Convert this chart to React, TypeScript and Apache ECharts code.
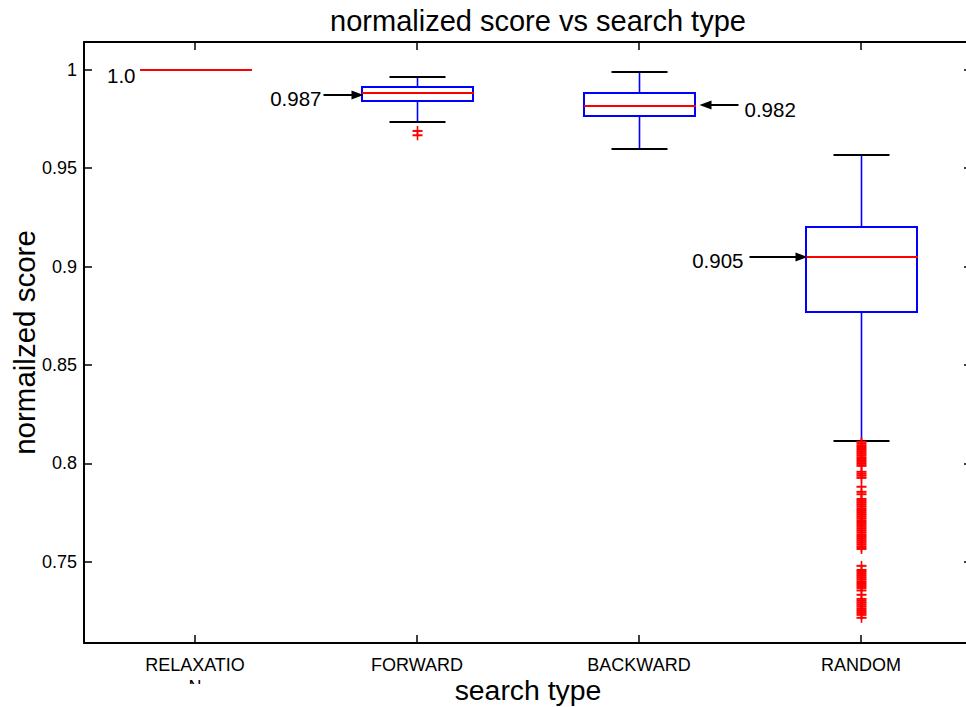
import React, { useEffect, useRef } from "react";
import * as echarts from "echarts";

// ---------- data ----------
const categories = ["RELAXATION", "FORWARD", "BACKWARD", "RANDOM"];
// [min whisker, Q1, median, Q3, max whisker]
const relaxationStats = [1.0, 1.0, 1.0, 1.0, 1.0];
const forwardStats = [0.9737, 0.9839, 0.9884, 0.991, 0.9961];
const backwardStats = [0.9597, 0.9766, 0.9817, 0.9882, 0.999];
const randomStats = [0.8112, 0.877, 0.9046, 0.9199, 0.9565];
const boxStats = [relaxationStats, forwardStats, backwardStats, randomStats];

const forwardOutliers = [0.9689, 0.9667];
const randomOutliers = [
  0.8109, 0.8099, 0.8088, 0.8078, 0.8068, 0.8058, 0.8048, 0.8038, 0.8027,
  0.8017, 0.8007, 0.7997, 0.7987,
  0.7957, 0.7947, 0.7937, 0.7926,
  0.7881, 0.7855, 0.7843,
  0.7819, 0.7809, 0.7799, 0.7789, 0.7779, 0.7768, 0.7758, 0.7748, 0.7738,
  0.7728, 0.7718, 0.7707, 0.7697, 0.7687, 0.7677, 0.7667, 0.7657, 0.7647,
  0.7636, 0.7626, 0.7616, 0.7606, 0.7596, 0.7586, 0.7575, 0.7565,
  0.7479, 0.7458,
  0.7448, 0.7438, 0.7428, 0.7418, 0.7408, 0.7397, 0.7387, 0.7377, 0.7367,
  0.7354, 0.7332,
  0.7311, 0.7301, 0.7291, 0.7281, 0.7271, 0.726, 0.725, 0.724, 0.723,
  0.7215,
];

const annotationCategoryIdx = [0, 1, 2, 3];
const annotationValues = [1.0, 0.987, 0.982, 0.905];
const annotationTexts = ["1.0", "0.987", "0.982", "0.905"];

const yTicks = ["0.75", "0.8", "0.85", "0.9", "0.95", "1"];
const titleText = "normalized score vs search type";
const xName = "search type";
const yName = "normailzed score";

// ---------- styles ----------
const FONT = '"Liberation Sans", Arial, sans-serif';
const BLUE = "#0000ff";
const RED = "#ff0000";
const annotationSide = ["left", "left", "right", "left"];
const annotationArrowLen = [0, 40, 39, 58];
const annotationTextGap = [4, 2, 6, 6];

export default function App() {
  const ref = useRef<HTMLDivElement>(null);

  useEffect(() => {
    if (!ref.current) return;
    const chart = echarts.init(ref.current, null, { renderer: "svg" });

    const boxData = boxStats.map((s, i) => [i, ...s]);
    const outlierData = [
      ...forwardOutliers.map((v) => [1, v]),
      ...randomOutliers.map((v) => [3, v]),
    ];
    const annData = annotationValues.map((v, i) => [annotationCategoryIdx[i], v]);

    const yMin = 0.7087;
    const yMax = 1.0141;

    const axisLine = { show: true, lineStyle: { color: "#000", width: 2 } };
    const axisTick = { show: true, inside: true, length: 8, lineStyle: { color: "#000", width: 1.5 } };

    const option: any = {
      animation: false,
      textStyle: { fontFamily: FONT },
      title: {
        text: titleText,
        left: 533,
        textAlign: "center",
        top: 1,
        textStyle: { fontSize: 29, fontWeight: "normal", color: "#000", fontFamily: FONT },
      },
      grid: { left: 84, top: 42, width: 888, height: 601, containLabel: false, outerBoundsMode: "none" },
      xAxis: [
        {
          type: "category",
          data: categories,
          position: "bottom",
          boundaryGap: true,
          axisLine,
          axisTick: { ...axisTick, alignWithLabel: true },
          axisLabel: {
            fontSize: 18,
            color: "#000",
            margin: 11,
            width: 108,
            overflow: "breakAll",
            lineHeight: 22,
            fontFamily: FONT,
          },
          name: xName,
          nameLocation: "middle",
          nameGap: 33,
          nameMoveOverlap: false,
          nameTextStyle: { fontSize: 28.4, color: "#000", fontFamily: FONT },
          splitLine: { show: false },
        },
        {
          type: "category",
          data: categories,
          position: "top",
          boundaryGap: true,
          axisLine,
          axisTick: { ...axisTick, alignWithLabel: true },
          axisLabel: { show: false },
          splitLine: { show: false },
        },
      ],
      yAxis: [
        {
          type: "value",
          min: yMin,
          max: yMax,
          position: "left",
          axisLine,
          axisTick,
          axisLabel: {
            fontSize: 18,
            color: "#000",
            margin: 7,
            showMinLabel: false,
            showMaxLabel: false,
            fontFamily: FONT,
            formatter: (v: number) => {
              const s = String(Math.round(v * 100) / 100);
              return yTicks.includes(s) ? s : "";
            },
          },
          splitLine: { show: false },
          name: yName,
          nameLocation: "middle",
          nameGap: 45,
          nameMoveOverlap: false,
          nameTextStyle: { fontSize: 29.5, color: "#000", fontFamily: FONT },
        },
        {
          type: "value",
          min: yMin,
          max: yMax,
          position: "right",
          axisLine,
          axisTick,
          axisLabel: { show: false },
          splitLine: { show: false },
        },
      ],
      graphic: [
        {
          type: "rect",
          left: 180,
          top: 684,
          shape: { width: 32, height: 22 },
          style: { fill: "#fff" },
          z: 100,
          zlevel: 0,
        },
      ],
      series: [
        {
          type: "custom",
          name: "boxes",
          data: boxData,
          encode: { x: 0, y: [1, 2, 3, 4, 5] },
          renderItem: (params: any, api: any) => {
            const idx = api.value(0);
            const p = (k: number) => api.coord([idx, api.value(k)]);
            const cx = Math.round(p(3)[0]) + 0.5;
            const yLo = Math.round(p(1)[1]);
            const yQ1 = Math.round(p(2)[1]);
            const yMed = Math.round(p(3)[1]);
            const yQ3 = Math.round(p(4)[1]);
            const yHi = Math.round(p(5)[1]);
            const band = api.size([1, 0])[0];
            const bw = Math.round(band / 2);
            const cw = Math.round(band / 4);
            const left = Math.round(cx - bw / 2);
            return {
              type: "group",
              children: [
                { type: "line", shape: { x1: cx, y1: yHi, x2: cx, y2: yQ3 }, style: { stroke: BLUE, lineWidth: 1.6 } },
                { type: "line", shape: { x1: cx, y1: yQ1, x2: cx, y2: yLo }, style: { stroke: BLUE, lineWidth: 1.6 } },
                { type: "line", shape: { x1: cx - cw / 2, y1: yHi, x2: cx + cw / 2, y2: yHi }, style: { stroke: "#000", lineWidth: 2 } },
                { type: "line", shape: { x1: cx - cw / 2, y1: yLo, x2: cx + cw / 2, y2: yLo }, style: { stroke: "#000", lineWidth: 2 } },
                {
                  type: "rect",
                  shape: { x: left, y: yQ3, width: bw, height: yQ1 - yQ3 },
                  style: { fill: "none", stroke: BLUE, lineWidth: 2 },
                },
                { type: "line", shape: { x1: left, y1: yMed, x2: left + bw + 1, y2: yMed }, style: { stroke: RED, lineWidth: 2 } },
              ],
            };
          },
          z: 2,
        },
        {
          type: "custom",
          name: "outliers",
          data: outlierData,
          encode: { x: 0, y: 1 },
          renderItem: (params: any, api: any) => {
            const c = api.coord([api.value(0), api.value(1)]);
            const x = Math.round(c[0]) + 0.5;
            const y = c[1];
            const h = 5;
            return {
              type: "group",
              children: [
                { type: "line", shape: { x1: x - h, y1: y, x2: x + h, y2: y }, style: { stroke: RED, lineWidth: 2 } },
                { type: "line", shape: { x1: x, y1: y - h, x2: x, y2: y + h }, style: { stroke: RED, lineWidth: 1.6 } },
              ],
            };
          },
          z: 3,
        },
        {
          type: "custom",
          name: "annotations",
          data: annData,
          encode: { x: 0, y: 1 },
          renderItem: (params: any, api: any) => {
            const i = params.dataIndex;
            const [cx, yRaw] = api.coord([api.value(0), api.value(1)]);
            const y = Math.round(yRaw);
            const band = api.size([1, 0])[0];
            const bw = band / 2;
            const len = annotationArrowLen[i];
            const side = annotationSide[i];
            const gap = annotationTextGap[i];
            const txtStyle = {
              fontSize: 20.5,
              fontFamily: FONT,
              fill: "#000",
              verticalAlign: "middle",
            };
            if (len === 0) {
              return {
                type: "text",
                style: { ...txtStyle, text: annotationTexts[i], x: cx - bw / 2 - gap, y: y + 5, align: "right" },
              };
            }
            if (side === "left") {
              const tip = cx - bw / 2 + 2;
              const tail = tip - len;
              return {
                type: "group",
                children: [
                  { type: "line", shape: { x1: tail, y1: y, x2: tip - 10, y2: y }, style: { stroke: "#000", lineWidth: 2 } },
                  { type: "polygon", shape: { points: [[tip, y], [tip - 12, y - 4.5], [tip - 12, y + 4.5]] }, style: { fill: "#000" } },
                  { type: "text", style: { ...txtStyle, text: annotationTexts[i], x: tail - gap, y: y + 3, align: "right" } },
                ],
              };
            }
            const tip = cx + bw / 2 + 5;
            const tail = tip + len;
            return {
              type: "group",
              children: [
                { type: "line", shape: { x1: tip + 10, y1: y, x2: tail, y2: y }, style: { stroke: "#000", lineWidth: 2 } },
                { type: "polygon", shape: { points: [[tip, y], [tip + 12, y - 4.5], [tip + 12, y + 4.5]] }, style: { fill: "#000" } },
                { type: "text", style: { ...txtStyle, text: annotationTexts[i], x: tail + gap, y: y + 4, align: "left" } },
              ],
            };
          },
          z: 4,
        },
      ],
    };

    chart.setOption(option);
    return () => {
      chart.dispose();
    };
  }, []);

  return (
    <div
      ref={ref}
      style={{ position: "absolute", left: 0, top: 0, width: 966, height: 707, background: "#fff" }}
    />
  );
}
